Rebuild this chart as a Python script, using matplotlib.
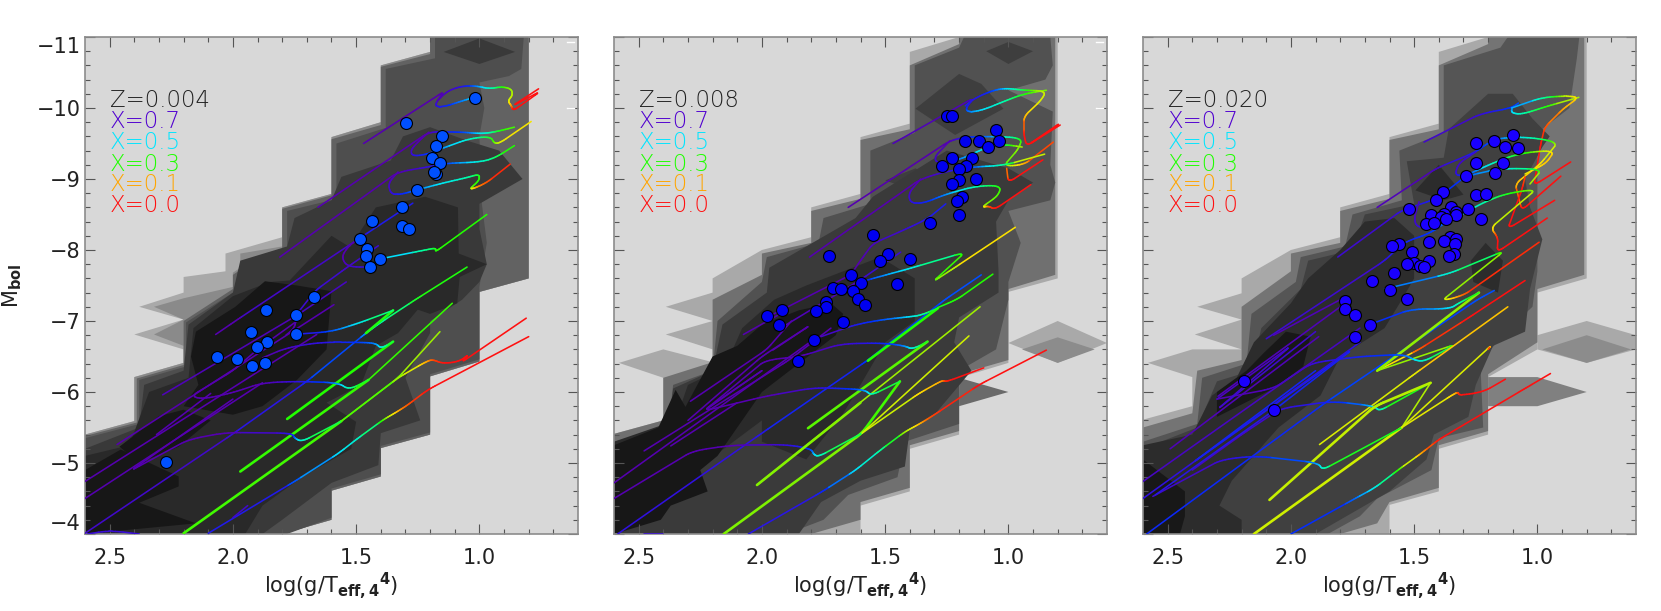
"""
three panels of stellar tracks on top of grey density contours
saves out.png
"""

import matplotlib
matplotlib.use("Agg")
import matplotlib.pyplot as plt
import numpy as np
from matplotlib.collections import LineCollection
from matplotlib.colors import LinearSegmentedColormap

# legend text
metallicity_labels = ["Z=0.004", "Z=0.008", "Z=0.020"]
legend_labels = ["X=0.7", "X=0.5", "X=0.3", "X=0.1", "X=0.0"]

# density contours, (logL, Mbol) corners, light to dark
p1_contours = [
    [(1.2, -11), (.8, -11), (.8, -7.6), (1.0, -7.41), (1.0, -6.43), (1.2, -6.22), (1.2, -5.4), (1.4, -5.21), (1.4, -4.81), (1.6, -4.61), (1.6, -4.2), (1.8, -4), (2.6, -4), (2.6, -5.4), (2.4, -5.59), (2.4, -6.21), (2.2, -6.41), (2.2, -6.6), (2.4, -6.81), (2.2, -7.02), (2.38, -7.2), (2.2, -7.4), (2.2, -7.62), (2.03, -7.7), (2.03, -7.95), (1.8, -8.18), (1.8, -8.6), (1.6, -8.79), (1.6, -9.59), (1.4, -9.8), (1.4, -10.6), (1.2, -10.79)],
    [(1.2, -11), (.8, -11), (.8, -7.6), (1.0, -7.41), (1.0, -6.43), (1.2, -6.22), (1.2, -5.4), (1.4, -5.21), (1.4, -4.81), (1.6, -4.61), (1.6, -4.2), (1.8, -4), (2.6, -4), (2.6, -5.4), (2.4, -5.59), (2.4, -6.21), (2.2, -6.41), (2.2, -6.65), (2.32, -6.81), (2.2, -7.02), (2.32, -7.2), (2.2, -7.32), (2.0, -7.48), (2.0, -7.68), (1.97, -7.75), (1.97, -7.95), (1.8, -8.05), (1.8, -8.6), (1.6, -8.79), (1.6, -9.59), (1.4, -9.8), (1.4, -10.6), (1.2, -10.79)],
    [(1.2, -11), (.8, -11), (.8, -7.6), (1.0, -7.41), (1.0, -6.43), (1.2, -6.22), (1.2, -5.4), (1.4, -5.21), (1.4, -4.81), (1.6, -4.61), (1.6, -4.2), (1.8, -4), (2.6, -4), (2.6, -5.38), (2.39, -5.57), (2.39, -6.19), (2.2, -6.38), (2.2, -7.0), (2.0, -7.45), (2.0, -7.65), (1.97, -7.72), (1.8, -8.0), (1.8, -8.58), (1.6, -8.77), (1.6, -9.56), (1.4, -9.76), (1.4, -10.58), (1.2, -10.76)],
    [(1.18, -11), (.82, -11), (.83, -10.55), (.88, -10.45), (1.0, -10.36), (.98, -10.0), (1.0, -9.6), (.99, -8.65), (.97, -8.1), (1.0, -7.48), (1.0, -6.46), (1.2, -6.25), (1.2, -5.43), (1.4, -5.24), (1.4, -4.84), (1.6, -4.64), (1.6, -4.23), (1.78, -4), (2.6, -4), (2.6, -5.35), (2.38, -5.55), (2.38, -6.17), (2.19, -6.36), (2.19, -6.98), (1.99, -7.42), (1.97, -7.7), (1.78, -7.98), (1.78, -8.55), (1.58, -8.72), (1.58, -9.5), (1.38, -9.72), (1.38, -10.55), (1.18, -10.7)],
    [(1.145, -10.79), (1.0, -10.98), (.855, -10.79), (1.0, -10.62)],
    [(1.56, -9.03), (1.36, -9.26), (1.31, -9.6), (1.2, -9.73), (1.05, -9.54), (.92, -9.4), (.825, -9.0), (1.0, -8.65), (1.0, -8.3), (.97, -7.8), (1.0, -7.55), (1.07, -7.3), (1.2, -7.0), (1.2, -6.83), (1.3, -6.2), (1.24, -5.6), (1.4, -5.42), (1.41, -4.97), (1.6, -4.72), (1.8, -4.2), (1.88, -4), (2.6, -4), (2.6, -5.2), (2.38, -5.5), (2.36, -6.1), (2.2, -6.3), (2.18, -6.95), (2.0, -7.4), (1.97, -7.85), (1.78, -8.05), (1.75, -8.45), (1.6, -8.7)],
    [(1.42, -8.6), (1.22, -8.75), (1.087, -8.6), (1.084, -7.95), (.97, -7.8), (1.08, -7.62), (1.09, -7.25), (1.2, -7.1), (1.25, -7.16), (1.33, -6.83), (1.42, -6.65), (1.48, -6.1), (1.62, -5.85), (1.5, -5.58), (1.52, -5.2), (1.72, -4.8), (1.88, -4.4), (1.95, -4), (2.6, -4), (2.6, -5.1), (2.42, -5.25), (2.34, -6.0), (2.18, -6.2), (2.16, -6.9), (2.0, -7.35), (1.85, -7.55), (1.77, -7.57), (1.6, -8.2), (1.525, -8.04)],
    [(2.17, -6.5), (2.15, -6.85), (1.99, -7.2), (1.87, -7.56), (1.74, -7.5), (1.6, -7.42), (1.62, -6.6), (1.74, -6.17), (1.88, -5.8), (2.0, -5.68), (2.2, -5.8), (2.14, -6.1)],
    [(2.6, -4), (2.15, -4.15), (2.38, -4.44), (2.22, -4.67), (2.22, -4.81), (2.455, -5.19), (2.6, -4.9)],
    [(2.46, -5.23), (2.3, -5.66), (2.2, -5.75), (2.09, -5.6), (2.22, -5.23), (2.38, -5.0)],
]
p1_shades = ["#a9a9a9", "#8a8a8a", "#626262", "#4e4e4e", "#393939", "#393939", "#292929", "#171717", "#171717", "#171717"]

p2_contours = [
    [(1.2, -11), (.8, -11), (.8, -7.6), (1.0, -7.41), (1.0, -6.41), (1.2, -6.2), (1.2, -5.4), (1.4, -5.2), (1.4, -4.6), (1.6, -4.4), (1.6, -4), (2.6, -4), (2.6, -5.41), (2.4, -5.6), (2.4, -6.2), (2.58, -6.41), (2.4, -6.6), (2.2, -6.42), (2.2, -6.6), (2.39, -6.81), (2.2, -7.0), (2.39, -7.2), (2.2, -7.4), (2.2, -7.6), (2.0, -8.0), (1.8, -8.18), (1.8, -8.6), (1.6, -8.79), (1.6, -9.59), (1.4, -9.78), (1.4, -10.79)],
    [(1.0, -6.69), (.8, -7.0), (.6, -6.69), (.8, -6.41)],
    [(.945, -6.6), (.8, -6.77), (.65, -6.6), (.8, -6.41)],
    [(1.2, -6.2), (1.0, -6.0), (1.2, -5.8)],
    [(1.2, -11), (.81, -11), (.81, -7.65), (1.0, -7.45), (1.0, -6.45), (1.2, -6.25), (1.2, -5.45), (1.4, -5.25), (1.4, -4.65), (1.6, -4.45), (1.6, -4.2), (1.8, -4), (2.6, -4), (2.6, -5.41), (2.4, -5.6), (2.4, -6.2), (2.2, -6.42), (2.2, -7.0), (2.2, -7.3), (2.0, -7.65), (2.0, -7.95), (1.8, -8.1), (1.8, -8.55), (1.6, -8.72), (1.6, -9.55), (1.4, -9.7), (1.4, -10.6), (1.2, -10.9)],
    [(1.18, -11), (.83, -11), (.82, -10.6), (.85, -10.4), (1.0, -10.25), (.82, -9.95), (.83, -9.2), (.81, -8.95), (.83, -8.7), (1.0, -8.55), (.95, -8.1), (1.0, -7.55), (1.0, -7.3), (1.05, -6.6), (1.2, -6.3), (1.2, -5.55), (1.42, -5.3), (1.45, -4.8), (1.65, -4.55), (1.75, -4.2), (1.9, -4), (2.6, -4), (2.6, -5.3), (2.38, -5.5), (2.36, -6.1), (2.2, -6.3), (2.18, -7.0), (2.0, -7.55), (1.98, -7.9), (1.77, -8.1), (1.75, -8.45), (1.56, -8.65), (1.56, -9.4), (1.38, -9.65), (1.38, -10.6), (1.2, -10.85)],
    [(1.0, -10.93), (.9, -10.8), (1.0, -10.62), (1.09, -10.8)],
    [(1.377, -9.99), (1.2, -10.48), (1.11, -10.34), (1.02, -9.99), (1.216, -9.62)],
    [(1.5, -8.98), (1.377, -9.15), (1.29, -8.98), (1.384, -8.84)],
    [(1.25, -9.4), (1.0, -9.15), (.9, -8.95), (1.0, -8.7), (1.05, -8.4), (1.04, -7.7), (1.04, -7.4), (1.2, -7.05), (1.22, -6.7), (1.15, -6.3), (1.3, -5.68), (1.4, -5.47), (1.42, -4.95), (1.6, -4.75), (1.76, -4.45), (1.85, -4), (2.6, -4), (2.6, -5.25), (2.38, -5.45), (2.36, -6.05), (2.2, -6.3), (2.16, -6.95), (1.98, -7.4), (1.97, -7.75), (1.62, -8.45), (1.55, -8.75)],
    [(1.82, -7.5), (1.52, -7.9), (1.38, -7.6), (1.38, -7.0), (1.5, -6.7), (1.6, -6.1), (1.67, -5.7), (1.82, -5.05), (2.0, -5.3), (2.0, -5.6), (2.25, -4.95), (2.42, -4.39), (2.6, -4), (2.6, -5.3), (2.35, -5.6), (2.3, -6.1), (2.15, -6.35), (2.08, -6.9), (1.95, -7.3)],
    [(2.6, -4.9), (2.6, -5.25), (2.42, -5.5), (2.35, -6.03), (2.31, -5.79), (2.2, -6.5), (2.1, -6.65), (2.0, -6.95), (1.85, -7.15), (1.72, -7.25), (1.67, -7.1), (1.7, -6.8), (1.85, -6.4), (2.0, -6.0), (2.1, -5.5), (2.18, -5.1), (2.25, -4.9), (2.22, -4.6), (2.37, -4.4), (2.41, -4.2), (2.6, -4)],
]
p2_shades = ["#a9a9a9", "#a9a9a9", "#8c8c8c", "#6a6a6a", "#707070", "#515151", "#3e3e3e", "#3e3e3e", "#3e3e3e", "#3a3a3a", "#2a2a2a", "#171717"]

p3_contours = [
    [(1.2, -11), (.8, -11), (.8, -7.6), (1.0, -7.4), (1.0, -6.6), (1.2, -6.21), (1.2, -5.4), (1.4, -5.2), (1.4, -4.6), (1.6, -4.41), (1.6, -4), (2.6, -4), (2.6, -5.61), (2.4, -5.8), (2.4, -6.21), (2.58, -6.41), (2.4, -6.6), (2.2, -6.6), (2.39, -6.81), (2.2, -7.02), (2.38, -7.2), (2.2, -7.39), (2.2, -7.6), (2.0, -8.0), (1.8, -8.18), (1.8, -8.6), (1.6, -8.79), (1.6, -9.59), (1.4, -9.78), (1.4, -10.79)],
    [(1.0, -6.8), (.8, -7.0), (.6, -6.8), (.6, -6.6), (.8, -6.41), (1.0, -6.6)],
    [(.98, -6.6), (.8, -6.8), (.62, -6.6), (.8, -6.41)],
    [(1.2, -6.21), (1.0, -6.21), (.8, -6.0), (1.0, -5.8), (1.2, -5.8)],
    [(1.2, -11), (.81, -11), (.81, -7.65), (1.0, -7.45), (1.0, -6.7), (1.2, -6.25), (1.2, -5.45), (1.4, -5.25), (1.4, -4.65), (1.6, -4.45), (1.65, -4.15), (1.8, -4), (2.6, -4), (2.6, -5.5), (2.4, -5.7), (2.38, -6.3), (2.2, -6.45), (2.2, -7.2), (2.0, -7.7), (2.0, -7.95), (1.8, -8.1), (1.8, -8.55), (1.6, -8.72), (1.6, -9.55), (1.4, -9.7), (1.4, -10.6), (1.2, -10.9)],
    [(1.12, -11), (.83, -11), (.84, -10.7), (.87, -10.0), (1.0, -9.65), (1.0, -7.7), (1.02, -7.2), (1.13, -6.85), (1.2, -6.55), (1.23, -6.3), (1.22, -5.5), (1.4, -5.35), (1.43, -4.9), (1.65, -4.5), (1.72, -4.25), (1.85, -4), (2.6, -4), (2.6, -5.3), (2.38, -5.55), (2.36, -6.2), (2.18, -6.4), (2.16, -7.1), (1.98, -7.55), (1.96, -7.9), (1.78, -8.05), (1.75, -8.5), (1.55, -8.7), (1.56, -9.4), (1.38, -9.65), (1.38, -10.6), (1.15, -10.85)],
    [(1.36, -9.7), (1.2, -10.2), (1.1, -10.2), (1.02, -9.85), (.95, -9.6), (.98, -9.45), (1.05, -9.0), (1.03, -8.6), (.98, -8.15), (1.03, -7.45), (1.05, -6.85), (1.18, -6.65), (1.25, -6.1), (1.28, -5.65), (1.42, -5.4), (1.45, -5.05), (1.6, -4.6), (1.75, -4.3), (1.9, -4), (2.6, -4), (2.6, -5.2), (2.38, -5.5), (2.3, -6.15), (2.16, -6.3), (2.12, -6.9), (1.96, -7.45), (1.93, -7.85), (1.75, -8.0), (1.7, -8.5), (1.5, -8.65), (1.53, -9.25), (1.38, -9.3)],
    [(1.495, -8.84), (1.4, -9.2), (1.3, -8.78), (1.38, -8.7)],
    [(1.27, -7.85), (1.21, -8.1), (1.14, -7.85), (1.16, -7.4), (1.26, -7.55)],
    [(2.6, -4), (2.2, -4), (2.2, -4.2), (2.29, -4.4), (2.24, -4.75), (2.05, -5.5), (1.88, -5.95), (1.8, -6.5), (1.62, -6.9), (1.55, -7.3), (1.5, -7.6), (1.5, -8.2), (1.58, -8.45), (1.7, -8.4), (1.8, -8.0), (1.93, -7.6), (2.0, -7.25), (2.15, -6.7), (2.22, -6.2), (2.32, -5.95), (2.4, -5.4), (2.6, -5.25)],
    [(2.6, -4), (2.45, -4), (2.43, -4.25), (2.43, -4.6), (2.6, -5.05)],
    [(2.11, -6.55), (2.02, -6.85), (1.92, -6.78), (1.95, -6.36), (2.07, -6.05), (2.3, -5.65), (2.3, -6.0), (2.18, -6.3)],
]
p3_shades = ["#a9a9a9", "#a9a9a9", "#8c8c8c", "#808080", "#747474", "#555555", "#404040", "#2c2c2c", "#2c2c2c", "#2c2c2c", "#181818", "#181818"]

# evolutionary tracks, each point is (logL, Mbol, hydrogen fraction X)
p1_tracks = [
    [(1.47, -9.5, .7), (1.14, -10.24, .7), (1.17, -10.11, .68), (1.18, -10.02, .65), (1.14, -10.02, .62), (1.07, -10.1, .55), (1.02, -10.15, .5)],
    [(1.17, -10.1, .7), (1.13, -10.24, .68), (1.07, -10.31, .65), (1.01, -10.31, .55), (.96, -10.27, .45), (.91, -10.3, .3), (.87, -10.27, .25), (.865, -10.18, .22), (.885, -10.1, .2), (.87, -10.03, .1), (.865, -9.98, 0), (.855, -9.98, 0), (.75, -10.24, 0), (.87, -10.02, 0), (.76, -10.27, 0)],
    [(1.655, -8.6, .7), (1.205, -9.66, .7), (1.15, -9.66, .62), (1.07, -9.66, .6), (1.0, -9.64, .5), (.96, -9.65, .42), (.916, -9.68, .3), (.858, -9.73, .28)],
    [(1.205, -9.66, .7), (1.25, -9.52, .7), (1.28, -9.4, .68), (1.27, -9.32, .65), (1.21, -9.35, .6), (1.16, -9.42, .55), (1.04, -9.57, .45), (.954, -9.6, .32), (.94, -9.5, .28), (.916, -9.51, .18), (.79, -9.81, .15)],
    [(1.81, -7.9, .7), (1.33, -9.1, .7), (1.19, -9.18, .65), (1.14, -9.22, .6), (.99, -9.24, .45), (.93, -9.31, .35), (.858, -9.47, .28)],
    [(1.33, -9.1, .7), (1.37, -8.94, .68), (1.36, -8.79, .66), (1.32, -8.78, .62), (1.25, -8.85, .55), (1.14, -8.95, .48), (1.05, -9.02, .42), (1.0, -9.07, .32), (1.0, -8.98, .3), (1.04, -8.86, .28), (1.02, -8.87, .1), (.97, -8.95, .05), (.875, -9.21, 0)],
    [(2.07, -6.81, .7), (1.99, -7.0, .7), (1.48, -8.18, .65), (1.27, -8.66, .62)],
    [(1.48, -8.18, .7), (1.53, -8.06, .7), (1.56, -7.9, .7), (1.535, -7.76, .68), (1.44, -7.76, .65)],
    [(1.41, -8.06, .66), (1.535, -7.76, .68), (1.665, -7.43, .65), (1.74, -7.1, .68), (1.75, -6.9, .7), (1.785, -6.8, .7)],
    [(1.41, -7.87, .55), (1.22, -8.0, .4), (1.175, -8.03, .32), (1.18, -7.97, .3), (.97, -8.5, .3)],
    [(1.54, -7.55, .68), (1.74, -7.08, .68), (2.285, -5.96, .7)],
    [(1.59, -7.23, .7), (2.47, -5.26, .7)],
    [(2.6, -4.74, .7), (1.66, -6.81, .7)],
    [(2.6, -4.5, .7), (1.88, -6.13, .7)],
    [(2.6, -4.01, .68), (2.0, -5.41, .66), (1.7, -6.15, .62), (1.46, -6.83, .55), (1.4, -6.98, .42), (1.26, -7.3, .32), (1.05, -7.76, .3)],
    [(1.46, -6.83, .3), (1.35, -7.15, .32)],
    [(1.35, -7.15, .32), (1.49, -6.97, .48), (1.6, -6.85, .58), (1.72, -6.82, .65)],
    [(1.78, -5.62, .3), (1.35, -6.71, .3)],
    [(1.35, -6.71, .3), (1.40, -6.61, .45), (1.42, -6.69, .55), (1.5, -6.7, .6), (1.65, -6.7, .65), (1.785, -6.62, .68), (1.88, -6.48, .7)],
    [(1.97, -4.88, .28), (1.45, -6.17, .3)],
    [(1.45, -6.17, .3), (1.11, -7.25, .28)],
    [(1.45, -6.17, .3), (1.53, -6.03, .38), (1.57, -6.13, .55), (1.74, -6.15, .65), (1.88, -6.13, .7), (2.0, -5.99, .7), (2.12, -5.9, .7), (2.17, -5.94, .7), (2.0, -6.3, .7), (1.9, -6.6, .7), (1.74, -7.0, .7)],
    [(2.2, -4.01, .27), (1.56, -5.59, .3)],
    [(1.56, -5.59, .3), (1.33, -6.2, .27), (1.16, -6.85, .22)],
    [(1.56, -5.59, .3), (1.72, -5.3, .42), (1.75, -5.35, .55), (1.76, -5.42, .65), (2.03, -5.43, .7), (2.18, -5.33, .7), (2.41, -4.9, .7), (2.39, -4.95, .7), (2.0, -5.9, .7)],
    [(1.56, -5.59, .3), (1.33, -6.2, .25), (1.22, -6.42, .12), (1.19, -6.46, .05), (1.15, -6.4, 0), (1.08, -6.43, 0), (1.04, -6.54, 0), (1.076, -6.41, 0), (.81, -7.04, 0)],
    [(2.1, -4.01, .68), (1.75, -4.74, .58), (1.57, -5.14, .5), (1.5, -5.33, .45), (1.39, -5.61, .3), (1.33, -5.73, .1), (1.29, -5.82, .05), (1.21, -6.03, 0), (.8, -6.78, 0)],
    [(2.0, -4.23, .66), (1.94, -4.4, .68)],
    [(2.59, -4.0, .66), (2.5, -4.05, .66), (2.38, -4.0, .66)],
    [(2.31, -5.4, .7), (2.09, -5.98, .7)],
]
p1_thick = [15, 17, 19, 22]

p2_tracks = [
    [(1.468, -9.5, .7), (1.137, -10.15, .68), (1.175, -9.99, .62), (1.16, -9.94, .55), (1.105, -9.97, .5), (1.02, -10.09, .42), (.937, -10.2, .3), (.846, -10.25, .25)],
    [(1.175, -10.03, .62), (1.14, -10.13, .65), (1.07, -10.24, .6), (1.014, -10.28, .52), (.937, -10.25, .32), (.846, -10.24, .2), (.867, -10.11, .2), (.937, -9.88, .12), (.937, -9.62, 0), (.926, -9.46, 0), (.784, -9.8, 0), (.92, -9.48, 0), (.79, -9.76, 0)],
    [(1.65, -8.6, .7), (1.237, -9.54, .7), (1.175, -9.59, .62), (1.063, -9.6, .55), (.944, -9.58, .32), (.958, -9.43, .25), (1.02, -9.18, .28), (.937, -9.2, .1), (.818, -9.52, 0)],
    [(1.237, -9.54, .7), (1.3, -9.31, .68), (1.29, -9.22, .66), (1.2, -9.27, .55), (1.13, -9.38, .5), (1.063, -9.48, .4), (1.0, -9.48, .32), (.944, -9.45, .22)],
    [(1.807, -7.9, .7), (1.356, -9.0, .7), (1.26, -9.1, .66), (1.147, -9.17, .6), (1.02, -9.19, .4), (.853, -9.35, .1)],
    [(1.007, -9.15, .1), (1.0, -8.95, 0), (.86, -9.27, 0)],
    [(1.356, -9.0, .7), (1.405, -8.8, .68), (1.398, -8.66, .65), (1.342, -8.66, .62), (1.258, -8.78, .55), (1.133, -8.9, .42), (1.03, -8.91, .3), (1.04, -8.77, .28), (1.109, -8.6, .25), (1.08, -8.62, .05), (1.056, -8.57, 0), (.909, -8.92, 0)],
    [(1.254, -8.65, .62), (1.328, -8.44, .64), (1.412, -8.3, .66), (1.55, -8.09, .68), (1.6, -7.85, .7), (1.64, -7.65, .7), (1.98, -7.05, .7)],
    [(1.6, -7.55, .62), (1.517, -7.63, .55), (1.4, -7.74, .48), (1.175, -7.97, .3), (1.307, -7.55, .28), (1.223, -7.74, .22), (.972, -8.32, .1)],
    [(1.437, -7.97, .65), (1.6, -7.58, .68), (1.9, -6.95, .7)],
    [(2.585, -4, .66), (2.0, -5.42, .64), (1.57, -6.45, .6), (1.258, -7.3, .58), (1.11, -7.65, .58)],
    [(1.063, -7.66, .3), (1.21, -7.3, .3), (1.286, -7.19, .32)],
    [(1.57, -6.44, .3), (1.286, -7.18, .3)],
    [(1.286, -7.18, .3), (1.356, -7.08, .4), (1.4, -7.06, .5), (1.51, -7.02, .58), (1.62, -6.95, .63), (1.76, -6.78, .7)],
    [(1.813, -5.49, .28), (1.328, -6.71, .27)],
    [(1.328, -6.71, .27), (1.39, -6.6, .45), (1.42, -6.65, .55), (1.51, -6.69, .62), (1.677, -6.68, .67), (1.845, -6.5, .7), (1.985, -6.45, .7), (2.236, -5.73, .7), (2.0, -6.3, .7)],
    [(2.02, -4.69, .26), (1.115, -7.2, .22)],
    [(2.155, -4, .25), (1.594, -5.42, .27), (1.44, -6.15, .3)],
    [(1.44, -6.15, .3), (1.558, -5.95, .4), (1.58, -6.03, .55), (1.68, -6.05, .62), (1.79, -6.06, .66), (1.985, -5.94, .7), (2.24, -5.73, .7), (2.0, -6.3, .7)],
    [(1.594, -5.42, .25), (1.16, -6.79, .15)],
    [(1.594, -5.42, .3), (1.77, -5.09, .42), (1.79, -5.12, .5), (1.8, -5.2, .6), (1.9, -5.26, .66), (2.124, -5.25, .7), (2.28, -5.17, .7), (2.6, -4.5, .7)],
    [(1.594, -5.42, .25), (1.363, -5.98, .15), (1.265, -6.17, .1), (1.255, -6.14, 0), (1.1, -6.34, 0)],
    [(2.055, -4, .66), (1.754, -4.6, .62), (1.62, -4.9, .5), (1.52, -5.18, .4), (1.42, -5.44, .25), (1.356, -5.56, .1), (1.3, -5.68, .03), (1.12, -6.1, 0), (.846, -6.59, 0)],
    [(2.478, -5.17, .7), (1.89, -6.45, .7), (1.72, -6.9, .7)],
    [(2.29, -5.87, .7), (1.98, -6.6, .7), (1.88, -7.0, .7)],
    [(2.075, -6.81, .7), (1.9, -7.15, .7)],
    [(2.6, -4.72, .7), (1.79, -6.74, .7)],
    [(1.956, -6.59, .7), (1.8, -6.95, .7), (2.0, -6.5, .7), (2.3, -5.6, .7)],
    [(2.37, -5.24, .7), (2.1, -5.85, .7)],
    [(2.48, -4.0, .66), (2.4, -4.0, .66)],
    [(2.02, -4.69, .26), (1.6, -5.85, .25)],
]
p2_thick = [12, 14, 17, 30]

p3_tracks = [
    [(1.46, -9.52, .68), (1.23, -9.92, .66), (1.105, -10.0, .6), (1.077, -10.07, .58)],
    [(1.105, -10.0, .55), (1.105, -9.93, .5), (1.063, -9.91, .42), (.965, -10.02, .3), (.832, -10.15, .2)],
    [(1.105, -10.0, .58), (.98, -10.15, .42), (.88, -10.17, .2), (.832, -10.15, .15), (.895, -9.99, .1), (.97, -9.73, .05), (.986, -9.5, 0), (1.014, -8.91, 0), (.865, -9.24, 0)],
    [(1.65, -8.6, .7), (1.41, -9.15, .68), (1.25, -9.38, .62), (1.195, -9.52, .58), (1.147, -9.58, .55), (1.035, -9.59, .45), (.916, -9.52, .25), (.986, -9.22, .15), (1.09, -8.93, .12), (1.063, -8.56, 0), (.905, -9.04, 0)],
    [(1.25, -9.38, .65), (1.32, -9.22, .68), (1.335, -9.05, .65), (1.29, -9.05, .6), (1.216, -9.17, .5), (1.12, -9.31, .35), (1.035, -9.38, .3), (.93, -9.4, .15), (.965, -9.22, .12), (1.05, -9.07, .2)],
    [(1.81, -7.9, .68), (1.55, -8.56, .65), (1.41, -8.72, .62), (1.29, -9.04, .58), (1.147, -9.15, .5), (.98, -9.14, .3), (1.03, -8.93, .2)],
    [(1.05, -9.03, .05), (1.063, -8.85, 0), (1.12, -8.3, 0), (.93, -8.7, 0)],
    [(1.48, -8.68, .68), (1.5, -8.45, .68), (1.49, -8.32, .66), (1.42, -8.3, .62), (1.3, -8.51, .52), (1.23, -8.65, .42), (1.133, -8.79, .32), (1.003, -8.86, .25), (1.19, -8.31, .18), (1.16, -8.18, 0), (1.163, -7.97, 0), (.96, -8.45, 0)],
    [(2.1, -6.75, .68), (1.62, -7.85, .65), (1.54, -8.11, .62), (1.44, -8.23, .6), (1.3, -8.55, .55)],
    [(1.62, -7.45, .62), (1.356, -7.67, .45), (1.133, -7.99, .28), (1.39, -7.28, .22), (1.3, -7.36, .05), (.993, -8.11, 0)],
    [(2.585, -4, .62), (1.86, -5.85, .6), (1.244, -7.3, .58), (1.175, -7.43, .58)],
    [(1.05, -7.57, 0), (1.286, -7.03, 0), (1.48, -6.6, .05), (1.65, -6.3, .22)],
    [(1.65, -6.3, .22), (1.237, -7.4, .28)],
    [(1.237, -7.4, .28), (1.32, -7.25, .4), (1.356, -7.17, .5), (1.51, -7.17, .58), (1.68, -6.95, .62)],
    [(1.65, -6.3, .22), (1.325, -6.68, .28), (1.46, -6.43, .42), (1.5, -6.45, .5), (1.54, -6.53, .58), (1.72, -6.5, .62), (1.915, -6.41, .66), (2.07, -6.05, .68), (2.3, -5.9, .7)],
    [(1.884, -5.26, .2), (1.5, -6.25, .18), (1.12, -7.2, .08)],
    [(2.15, -4, .2), (1.55, -5.5, .2)],
    [(1.55, -5.5, .2), (1.433, -6.13, .25)],
    [(1.433, -6.13, .25), (1.642, -5.73, .4), (1.66, -5.8, .52), (1.83, -5.87, .62), (2.04, -5.77, .66), (2.2, -5.4, .68), (2.4, -4.9, .68)],
    [(2.087, -4.48, .2), (1.66, -5.8, .22), (1.433, -6.13, .22)],
    [(1.55, -5.5, .25), (1.873, -4.9, .4), (1.887, -5.0, .55), (2.14, -5.1, .62), (2.28, -5.05, .66), (2.56, -4.53, .68)],
    [(1.55, -5.5, .2), (1.34, -5.97, .15), (1.32, -6.0, .05), (1.32, -5.95, 0), (1.22, -6.0, 0), (1.13, -6.18, 0)],
    [(1.55, -5.5, .2), (1.186, -6.66, .18), (1.2, -6.6, 0)],
    [(2.0, -4, .62), (1.75, -4.48, .58), (1.66, -4.65, .48), (1.566, -4.9, .3), (1.47, -5.14, .1), (1.4, -5.33, 0), (1.05, -6.05, 0), (.947, -6.26, 0)],
    [(2.49, -5.2, .7), (1.887, -6.78, .68)],
    [(2.296, -5.94, .7), (1.8, -7.2, .68)],
    [(2.07, -6.8, .7), (1.8, -7.3, .68)],
    [(2.6, -4.74, .7), (1.72, -6.9, .66)],
    [(2.6, -4.5, .68), (1.72, -6.7, .62)],
    [(2.3, -5.9, .7), (2.0, -6.65, .66), (2.3, -5.75, .68), (1.9, -6.85, .66)],
    [(2.55, -4.55, .66), (2.07, -5.74, .62), (1.75, -6.6, .62), (2.4, -5.0, .64), (1.9, -6.3, .6)],
]
p3_thick = [12, 16, 19]

# stars, marked as dots
p1_dots_x = [1.018, 1.296, 1.152, 1.178, 1.194, 1.16, 1.175, 1.183, 1.253, 1.3125, 1.4375, 1.3125, 1.287, 1.485, 1.454, 1.462, 1.404, 1.442, 1.67, 1.864, 1.742, 1.742, 1.927, 1.861, 1.904, 2.066, 1.983, 1.924, 1.87, 2.27]
p1_dots_y = [-10.14, -9.79, -9.61, -9.46, -9.29, -9.22, -9.07, -9.1, -8.85, -8.6, -8.41, -8.34, -8.3, -8.16, -8.02, -7.91, -7.87, -7.76, -7.34, -7.15, -7.08, -6.81, -6.85, -6.71, -6.64, -6.5, -6.46, -6.36, -6.41, -5.01]
p2_dots_x = [1.25, 1.229, 1.052, 1.175, 1.12, 1.081, 1.04, 1.149, 1.229, 1.27, 1.17, 1.2, 1.2, 1.229, 1.13, 1.19, 1.21, 1.2, 1.32, 1.55, 1.729, 1.49, 1.52, 1.40, 1.45, 1.64, 1.60, 1.71, 1.68, 1.63, 1.61, 1.58, 1.74, 1.74, 1.78, 1.92, 1.98, 1.93, 1.67, 1.79, 1.855]
p2_dots_y = [-9.89, -9.89, -9.69, -9.54, -9.53, -9.45, -9.54, -9.3, -9.3, -9.19, -9.19, -9.14, -8.98, -8.93, -9.0, -8.74, -8.69, -8.5, -8.38, -8.21, -7.92, -7.94, -7.85, -7.88, -7.52, -7.65, -7.53, -7.47, -7.45, -7.42, -7.31, -7.23, -7.27, -7.2, -7.14, -7.15, -7.07, -6.95, -6.99, -6.73, -6.43]
p3_dots_x = [1.10, 1.251, 1.175, 1.13, 1.08, 1.251, 1.14, 1.17, 1.29, 1.383, 1.41, 1.251, 1.21, 1.52, 1.35, 1.33, 1.38, 1.33, 1.43, 1.39, 1.37, 1.28, 1.23, 1.45, 1.42, 1.353, 1.33, 1.38, 1.44, 1.335, 1.34, 1.36, 1.56, 1.59, 1.51, 1.44, 1.50, 1.53, 1.478, 1.46, 1.58, 1.67, 1.6, 1.53, 1.78, 1.78, 1.74, 1.68, 1.74, 2.19, 2.07]
p3_dots_y = [-9.615, -9.51, -9.54, -9.45, -9.44, -9.22, -9.22, -9.08, -9.04, -8.82, -8.7, -8.78, -8.79, -8.58, -8.61, -8.535, -8.51, -8.49, -8.49, -8.46, -8.43, -8.58, -8.43, -8.37, -8.38, -8.19, -8.15, -8.12, -8.11, -8.08, -7.95, -7.91, -8.08, -8.06, -7.97, -7.84, -7.82, -7.8, -7.78, -7.76, -7.67, -7.57, -7.43, -7.31, -7.28, -7.17, -7.08, -6.95, -6.77, -6.15, -5.74]

# axis ticks and legend places in data units
x_major = [2.5, 2.0, 1.5, 1.0]
x_minor = [2.4, 2.3, 2.2, 2.1, 1.9, 1.8, 1.7, 1.6, 1.4, 1.3, 1.2, 1.1, .9, .8, .7]
y_major = [-11, -10, -9, -8, -7, -6, -5, -4]
y_minor = [-10.8, -10.6, -10.4, -10.2, -9.8, -9.6, -9.4, -9.2, -8.8, -8.6, -8.4, -8.2, -7.8, -7.6, -7.4, -7.2, -6.8, -6.6, -6.4, -6.2, -5.8, -5.6, -5.4, -5.2, -4.8, -4.6, -4.4, -4.2]
legend_y = [-10.11, -9.81, -9.51, -9.21, -8.92, -8.62]
white_marks_y = [-10.93, -10.0]

# colours along X, from red at 0 to purple at 0.7
x_cmap = LinearSegmentedColormap.from_list("xtrack", [
    (0.0, "#ff1010"), (0.05 / 0.7, "#ff5000"), (0.1 / 0.7, "#ffa500"), (0.15 / 0.7, "#ffe000"),
    (0.2 / 0.7, "#d0f000"), (0.25 / 0.7, "#90f000"), (0.3 / 0.7, "#20ff00"), (0.4 / 0.7, "#00ffa0"),
    (0.5 / 0.7, "#00e0ff"), (0.55 / 0.7, "#0080ff"), (0.6 / 0.7, "#0030ff"), (0.65 / 0.7, "#3010e0"),
    (1.0, "#5500b0"),
])
legend_colors = ["#222222", "#5000d0", "#00e5ff", "#20ff00", "#ffa500", "#ff1010"]


def round_corners(track, reach=0.035, rounds=3):
    # soften the corners of a track when drawing, the read points stay as they are
    pts = np.array(track, dtype=float)
    for _ in range(rounds):
        out = [pts[0]]
        for prev, here, nxt in zip(pts[:-2], pts[1:-1], pts[2:]):
            for other in (prev, nxt):
                length = np.hypot(*(other[:2] - here[:2]))
                frac = min(0.25, reach / length) if length > 0 else 0
                out.append(here + (other - here) * frac)
        out.append(pts[-1])
        pts = np.array(out)
        reach = reach / 2
    return pts


def draw_track(ax, track, width):
    # one segment per pair of points, coloured by the mean X of the pair
    pts = round_corners(track)
    segs = np.stack([pts[:-1, :2], pts[1:, :2]], axis=1)
    cols = x_cmap((pts[:-1, 2] + pts[1:, 2]) / 2 / 0.7)
    ax.add_collection(LineCollection(segs, colors=cols, linewidths=width, capstyle="round", zorder=3))


def draw_panel(ax, contours, shades, tracks, thick, dots_x, dots_y, dot_color, z_label, text_x, white_marks):
    ax.set_facecolor("#d8d8d8")
    for corners, shade in zip(contours, shades):
        ax.fill([c[0] for c in corners], [c[1] for c in corners], color=shade, lw=0, zorder=1)

    for i, track in enumerate(tracks):
        draw_track(ax, track, 1.9 if i in thick else 1.15)

    ax.plot(dots_x, dots_y, "o", ms=8.6, mfc=dot_color, mec="black", mew=0.8, zorder=4)

    for label, y, col in zip([z_label] + legend_labels, legend_y, legend_colors):
        ax.text(text_x, y, label, color=col, fontsize=16.5, fontweight="light", va="center", ha="left", zorder=5)

    if white_marks:
        for y in white_marks_y:
            ax.plot([.645, .615], [y, y], color="white", lw=1, zorder=2)

    ax.set_xlim(2.6, 0.6)
    ax.set_ylim(-4, -11)
    ax.set_xticks(x_major)
    ax.set_xticks(x_minor, minor=True)
    ax.set_yticks(y_major)
    ax.set_yticks(y_minor, minor=True)
    ax.set_xticklabels(["2.5", "2.0", "1.5", "1.0"])
    ax.tick_params(which="major", direction="in", length=7, width=0.8, color="#555555", top=True, right=True, labelsize=15, pad=10, labelcolor="#222222")
    ax.tick_params(which="minor", direction="in", length=3.5, width=0.8, color="#555555", top=True, right=True)
    for spine in ax.spines.values():
        spine.set_color("#8c8c8c")
        spine.set_linewidth(1.2)
    ax.set_xlabel(r"log(g/T$_{\mathbf{eff,4}}$$^{\mathbf{4}}$)", fontsize=15, labelpad=2, color="#222222")


def main():
    plt.rcParams["font.family"] = ["DejaVu Sans"]
    plt.rcParams["mathtext.default"] = "regular"

    w, h = 1661, 611
    fig = plt.figure(figsize=(w / 100, h / 100), dpi=100)

    lefts = [85, 614, 1143]
    axes = [fig.add_axes([l / w, 1 - 534 / h, 493 / w, 497 / h]) for l in lefts]

    draw_panel(axes[0], p1_contours, p1_shades, p1_tracks, p1_thick, p1_dots_x, p1_dots_y, "#0050ff", metallicity_labels[0], 2.5, True)
    draw_panel(axes[1], p2_contours, p2_shades, p2_tracks, p2_thick, p2_dots_x, p2_dots_y, "#0000f0", metallicity_labels[1], 2.5, True)
    draw_panel(axes[2], p3_contours, p3_shades, p3_tracks, p3_thick, p3_dots_x, p3_dots_y, "#1a00ff", metallicity_labels[2], 2.5, False)

    # only the left panel has y labels, the ends are nudged into the frame like the original
    ax = axes[0]
    ax.set_yticklabels(["\u221211", "\u221210", "\u22129", "\u22128", "\u22127", "\u22126", "\u22125", "\u22124"])
    labels = ax.get_yticklabels()
    labels[0].set_va("top")
    labels[-1].set_va("bottom")
    ax.tick_params(axis="y", pad=3)
    ax.set_ylabel(r"M$_{\mathbf{bol}}$", fontsize=15, labelpad=9, color="#222222")
    for other in axes[1:]:
        other.tick_params(axis="y", labelleft=False)

    fig.savefig("out.png", dpi=100)


if __name__ == "__main__":
    main()
